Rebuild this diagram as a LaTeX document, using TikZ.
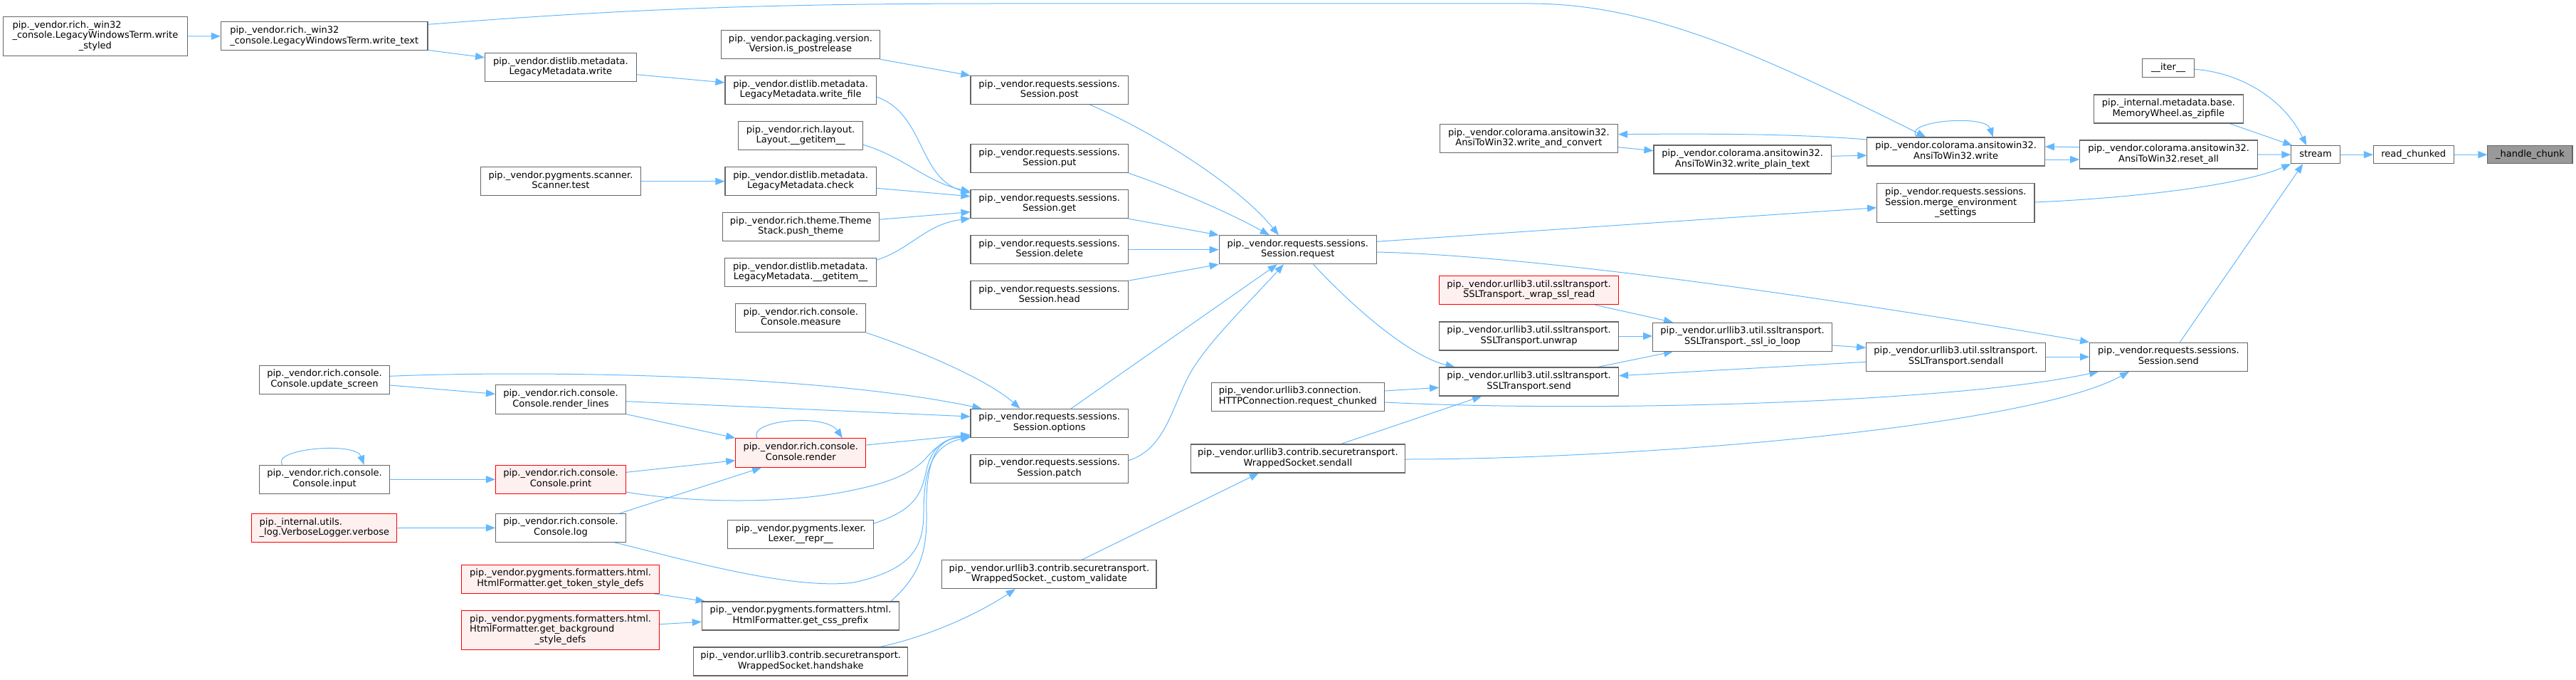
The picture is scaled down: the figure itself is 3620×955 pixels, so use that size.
\documentclass[tikz,border=0pt]{standalone}
\usepackage{fontspec}
\setmainfont{DejaVu Sans}
\usetikzlibrary{arrows.meta}
\definecolor{edgeblue}{HTML}{63B8FF}
\definecolor{nodegray}{HTML}{666666}
\definecolor{redfill}{HTML}{FFF0F0}
\definecolor{hlfill}{HTML}{999999}
\newcommand{\dl}[2]{\begin{tabular}{@{}l@{}}#1\\\multicolumn{1}{@{}c@{}}{#2}\end{tabular}}
\newcommand{\onel}[1]{\begin{tabular}{@{}c@{}}#1\end{tabular}}
\pgfdeclarelayer{edges}
\pgfsetlayers{edges,main}
\tikzset{
  fn/.style={draw=nodegray, fill=white, line width=1.1pt, inner sep=0pt, font=\fontsize{13}{14.7}\selectfont},
  fnred/.style={fn, draw=red, fill=redfill},
  fnhl/.style={fn, fill=hlfill},
  sz/.style 2 args={minimum width=#1pt, minimum height=#2pt},
  call/.style={draw=edgeblue, line width=1pt, -{Triangle[length=13pt,width=10pt]}},
}
\begin{document}
\begin{tikzpicture}[x=1pt,y=-1pt]
\useasboundingbox (0,0) rectangle (3620,955);
% nodes
\node[fn,sz={258.3}{55}] (wstyled) at (133.9,50.8) {\dl{pip.\_vendor.rich.\_win32\\\_console.LegacyWindowsTerm.write}{\_styled}};
\node[fn,sz={290.6}{40}] (wtext) at (455.7,50.9) {\dl{pip.\_vendor.rich.\_win32}{\_console.LegacyWindowsTerm.write\_text}};
\node[fn,sz={182.7}{40}] (update) at (456,533.3) {\dl{pip.\_vendor.rich.console.}{Console.update\_screen}};
\node[fn,sz={182.7}{40}] (input) at (456,673.3) {\dl{pip.\_vendor.rich.console.}{Console.input}};
\node[fnred,sz={204}{40}] (verbose) at (455.9,741.5) {\dl{pip.\_internal.utils.}{\_log.VerboseLogger.verbose}};
\node[fn,sz={222.8}{40}] (postrel) at (1125,62.7) {\dl{pip.\_vendor.packaging.version.}{Version.is\_postrelease}};
\node[fn,sz={212.7}{40}] (lmwrite) at (787.9,94.7) {\dl{pip.\_vendor.distlib.metadata.}{LegacyMetadata.write}};
\node[fn,sz={212.2}{40}] (wfile) at (1125.1,126.7) {\dl{pip.\_vendor.distlib.metadata.}{LegacyMetadata.write\_file}};
\node[fn,sz={174.8}{40}] (layout) at (1125.1,190.7) {\dl{pip.\_vendor.rich.layout.}{Layout.\_\_getitem\_\_}};
\node[fn,sz={224.2}{40}] (scanner) at (788,254.7) {\dl{pip.\_vendor.pygments.scanner.}{Scanner.test}};
\node[fn,sz={212.2}{40}] (check) at (1125.1,254.7) {\dl{pip.\_vendor.distlib.metadata.}{LegacyMetadata.check}};
\node[fn,sz={220}{40}] (theme) at (1125.2,318.7) {\dl{pip.\_vendor.rich.theme.Theme}{Stack.push\_theme}};
\node[fn,sz={213.3}{40}] (lmget) at (1125,382.7) {\dl{pip.\_vendor.distlib.metadata.}{LegacyMetadata.\_\_getitem\_\_}};
\node[fn,sz={183}{40}] (measure) at (1125.3,446.7) {\dl{pip.\_vendor.rich.console.}{Console.measure}};
\node[fn,sz={183}{40.3}] (rlines) at (788,561) {\dl{pip.\_vendor.rich.console.}{Console.render\_lines}};
\node[fnred,sz={183}{40.6}] (render) at (1125.3,636) {\dl{pip.\_vendor.rich.console.}{Console.render}};
\node[fnred,sz={183}{40}] (print) at (788,673.3) {\dl{pip.\_vendor.rich.console.}{Console.print}};
\node[fn,sz={183}{40}] (log) at (788,741.3) {\dl{pip.\_vendor.rich.console.}{Console.log}};
\node[fn,sz={205}{39.6}] (lexer) at (1125.2,750.5) {\dl{pip.\_vendor.pygments.lexer.}{Lexer.\_\_repr\_\_}};
\node[fnred,sz={278}{40}] (token) at (787.6,813.3) {\dl{pip.\_vendor.pygments.formatters.html.}{HtmlFormatter.get\_token\_style\_defs}};
\node[fnred,sz={278}{54.6}] (bg) at (787.6,885) {\dl{pip.\_vendor.pygments.formatters.html.\\HtmlFormatter.get\_background}{\_style\_defs}};
\node[fn,sz={277.4}{40}] (css) at (1125,865) {\dl{pip.\_vendor.pygments.formatters.html.}{HtmlFormatter.get\_css\_prefix}};
\node[fn,sz={301.4}{40}] (handshake) at (1125.2,929) {\dl{pip.\_vendor.urllib3.contrib.securetransport.}{WrappedSocket.handshake}};
\node[fn,sz={221.4}{40}] (post) at (1474.7,126.7) {\dl{pip.\_vendor.requests.sessions.}{Session.post}};
\node[fn,sz={221.4}{40}] (put) at (1474.7,222.7) {\dl{pip.\_vendor.requests.sessions.}{Session.put}};
\node[fn,sz={221.4}{40}] (get) at (1474.7,286.7) {\dl{pip.\_vendor.requests.sessions.}{Session.get}};
\node[fn,sz={221.4}{40}] (delete) at (1474.7,350.7) {\dl{pip.\_vendor.requests.sessions.}{Session.delete}};
\node[fn,sz={221.4}{40}] (head) at (1474.7,414.7) {\dl{pip.\_vendor.requests.sessions.}{Session.head}};
\node[fn,sz={221.4}{40}] (options) at (1474.7,594.3) {\dl{pip.\_vendor.requests.sessions.}{Session.options}};
\node[fn,sz={221.4}{40}] (patch) at (1474.7,658.3) {\dl{pip.\_vendor.requests.sessions.}{Session.patch}};
\node[fn,sz={221.2}{40}] (request) at (1823.8,350.7) {\dl{pip.\_vendor.requests.sessions.}{Session.request}};
\node[fn,sz={301.2}{40}] (cvalidate) at (1474.4,806.7) {\dl{pip.\_vendor.urllib3.contrib.securetransport.}{WrappedSocket.\_custom\_validate}};
\node[fn,sz={242.5}{40}] (rchunked) at (1823.9,557.3) {\dl{pip.\_vendor.urllib3.connection.}{HTTPConnection.request\_chunked}};
\node[fn,sz={301.1}{40}] (wssendall) at (1823.9,644) {\dl{pip.\_vendor.urllib3.contrib.securetransport.}{WrappedSocket.sendall}};
\node[fn,sz={250}{40}] (wac) at (2148.4,194.7) {\dl{pip.\_vendor.colorama.ansitowin32.}{AnsiToWin32.write\_and\_convert}};
\node[fn,sz={249.3}{40}] (wpt) at (2448.6,224) {\dl{pip.\_vendor.colorama.ansitowin32.}{AnsiToWin32.write\_plain\_text}};
\node[fnred,sz={251.9}{40}] (wrapssl) at (2148.6,407.7) {\dl{pip.\_vendor.urllib3.util.ssltransport.}{SSLTransport.\_wrap\_ssl\_read}};
\node[fn,sz={251.9}{40}] (unwrap) at (2148.6,472) {\dl{pip.\_vendor.urllib3.util.ssltransport.}{SSLTransport.unwrap}};
\node[fn,sz={251.7}{40}] (sslio) at (2448.6,473.2) {\dl{pip.\_vendor.urllib3.util.ssltransport.}{SSLTransport.\_ssl\_io\_loop}};
\node[fn,sz={251.9}{40}] (sslsend) at (2148.6,536) {\dl{pip.\_vendor.urllib3.util.ssltransport.}{SSLTransport.send}};
\node[fn,sz={249.5}{40}] (a2wwrite) at (2748.6,213) {\dl{pip.\_vendor.colorama.ansitowin32.}{AnsiToWin32.write}};
\node[fn,sz={221.4}{55}] (merge) at (2748.3,285.2) {\dl{pip.\_vendor.requests.sessions.\\Session.merge\_environment}{\_settings}};
\node[fn,sz={251.9}{40.3}] (sslsendall) at (2748.6,501.2) {\dl{pip.\_vendor.urllib3.util.ssltransport.}{SSLTransport.sendall}};
\node[fn,sz={249.7}{40}] (resetall) at (3047.6,217) {\dl{pip.\_vendor.colorama.ansitowin32.}{AnsiToWin32.reset\_all}};
\node[fn,sz={209.7}{40}] (zipfile) at (3047.4,153) {\dl{pip.\_internal.metadata.base.}{MemoryWheel.as\_zipfile}};
\node[fn,sz={72.7}{25.7}] (iter) at (3047,95.8) {\onel{\_\_iter\_\_}};
\node[fn,sz={221.6}{40.3}] (sessend) at (3047.4,501.2) {\dl{pip.\_vendor.requests.sessions.}{Session.send}};
\node[fn,sz={68.4}{25}] (stream) at (3254,217.2) {\onel{stream}};
\node[fn,sz={112.7}{25}] (rchunk) at (3391.7,217.2) {\onel{read\_chunked}};
\node[fnhl,sz={119.1}{25}] (handle) at (3555.4,217.2) {\onel{\_handle\_chunk}};
% edges
\begin{pgfonlayer}{edges}
\draw[call] (wstyled.east) -- (wtext.west);
\draw[call] ([shift={(0,-1)}]wtext.south east) -- ([shift={(0,-14)}]lmwrite.west);
\draw[call] ([shift={(0,-16.6)}]wtext.east) .. controls (850,15) and (1050,5) .. (1400,5) -- (2150,5) .. controls (2320,5) and (2480,80) .. ([shift={(83,0)}]a2wwrite.north west);
\draw[call] ([shift={(0,10)}]lmwrite.east) -- ([shift={(0,-10.7)}]wfile.west);
\draw[call] ([shift={(0,9.3)}]wfile.east) .. controls (1300,160) and (1290,250) .. ([shift={(0,5)}]get.north west);
\draw[call] ([shift={(0,12.6)}]layout.east) .. controls (1270,220) and (1300,255) .. ([shift={(0,3)}]get.north west);
\draw[call] (scanner.east) -- (check.west);
\draw[call] ([shift={(0,9.6)}]check.east) -- ([shift={(0,-11)}]get.west);
\draw[call] ([shift={(0,-10.4)}]theme.east) -- ([shift={(0,11)}]get.west);
\draw[call] ([shift={(0,-17.7)}]lmget.east) .. controls (1280,350) and (1300,315) .. ([shift={(0,-0.5)}]get.south west);
\draw[call] (postrel.south east) -- (post.north west);
\draw[call] ([shift={(57.3,0)}]post.south) .. controls (1620,185) and (1740,260) .. ([shift={(-27,0)}]request.north);
\draw[call] (put.south east) .. controls (1650,265) and (1730,300) .. ([shift={(-40,0)}]request.north);
\draw[call] (get.south east) -- (request.north west);
\draw[call] (delete.east) -- (request.west);
\draw[call] (head.north east) -- (request.south west);
\draw[call] ([shift={(30.6,0)}]options.north) -- ([shift={(-29,0)}]request.south);
\draw[call] ([shift={(0,-11.6)}]patch.east) .. controls (1640,630) and (1648,565) .. (1675,520) .. controls (1700,478) and (1760,420) .. ([shift={(-20,0)}]request.south);
\draw[call] (measure.south east) .. controls (1300,495) and (1390,535) .. ([shift={(70,0)}]options.north west);
\draw[call] ([shift={(0,-5)}]update.east) .. controls (750,520) and (1150,525) .. ([shift={(16,0)}]options.north west);
\draw[call] ([shift={(0,7.7)}]update.east) -- ([shift={(0,-7.7)}]rlines.west);
\draw[call] ([shift={(0,2.7)}]rlines.east) -- ([shift={(0,-9.3)}]options.west);
\draw[call] (rlines.south east) -- (render.north west);
\draw[call] ([shift={(30.8,0)}]render.north west) .. controls (1050,590) and (1160,580) .. ([shift={(150.6,0)}]render.north west);
\draw[call] ([shift={(0,-11)}]render.east) -- ([shift={(0,-4.3)}]options.south west);
\draw[call] ([shift={(0,-10)}]print.east) -- ([shift={(0,10.7)}]render.west);
\draw[call] ([shift={(0,17.7)}]print.east) .. controls (960,705) and (1100,710) .. (1200,688) .. controls (1260,676) and (1285,660) .. (1300,645) .. controls (1320,620) and (1340,614) .. ([shift={(0,-2.6)}]options.south west);
\draw[call] ([shift={(-8.6,0)}]log.north east) -- ([shift={(36.7,0)}]render.south west);
\draw[call] ([shift={(-16.5,0)}]log.south east) .. controls (940,780) and (1110,830) .. (1200,818) .. controls (1280,800) and (1298,770) .. (1298,720) .. controls (1298,660) and (1310,625) .. ([shift={(0,-1)}]options.south west);
\draw[call] ([shift={(32.8,0)}]input.north west) .. controls (380,630) and (500,620) .. ([shift={(147.4,0)}]input.north west);
\draw[call] (input.east) -- (print.west);
\draw[call] (verbose.east) -- (log.west);
\draw[call] ([shift={(0,-15.5)}]lexer.east) .. controls (1290,715) and (1295,690) .. (1302,660) .. controls (1310,625) and (1330,615) .. ([shift={(0,-0.5)}]options.south west);
\draw[call] ([shift={(-12.3,0)}]css.north east) .. controls (1290,810) and (1303,780) .. (1302,720) .. controls (1300,640) and (1320,615) .. ([shift={(0,-2)}]options.south west);
\draw[call] ([shift={(-8.3,0)}]token.south east) -- ([shift={(5,0)}]css.north west);
\draw[call] ([shift={(0,-8.3)}]bg.east) -- ([shift={(0,8.3)}]css.west);
\draw[call] ([shift={(-40,0)}]handshake.north east) .. controls (1300,895) and (1370,865) .. ([shift={(103.6,0)}]cvalidate.south west);
\draw[call] ([shift={(46,0)}]cvalidate.north) -- ([shift={(96,0)}]wssendall.south west);
\draw[call] ([shift={(211.7,0)}]wssendall.north west) -- ([shift={(60,0)}]sslsend.south west);
\draw[call] ([shift={(0,1)}]wssendall.east) .. controls (2300,645) and (2850,600) .. ([shift={(56,0)}]sessend.south west);
\draw[call] ([shift={(0,-8.3)}]rchunked.east) -- ([shift={(0,8.3)}]sslsend.west);
\draw[call] ([shift={(0,7.7)}]rchunked.east) .. controls (2250,580) and (2750,565) .. ([shift={(13,0)}]sessend.south west);
\draw[call] ([shift={(21.7,0)}]request.south) .. controls (1900,430) and (1980,500) .. ([shift={(22.4,0)}]sslsend.north west);
\draw[call] ([shift={(0,-11.4)}]request.east) -- ([shift={(0,6.5)}]merge.west);
\draw[call] ([shift={(0,3.3)}]request.east) .. controls (2200,360) and (2700,440) .. (sessend.north west);
\draw[call] ([shift={(-29.7,0)}]sslsend.north east) -- ([shift={(28.9,0)}]sslio.south west);
\draw[call] ([shift={(0,7.1)}]sslsendall.west) -- ([shift={(0,-8.3)}]sslsend.east);
\draw[call] ([shift={(0,11.8)}]sslio.east) -- ([shift={(0,-12.9)}]sslsendall.west);
\draw[call] (sslsendall.east) -- (sessend.west);
\draw[call] ([shift={(-33.6,0)}]wrapssl.south east) -- ([shift={(28.9,0)}]sslio.north west);
\draw[call] (unwrap.east) -- ([shift={(0,-1.2)}]sslio.west);
\draw[call] ([shift={(70.8,0)}]a2wwrite.north west) .. controls (2670,170) and (2790,160) .. ([shift={(177.5,0)}]a2wwrite.north west);
\draw[call] ([shift={(0,-17)}]a2wwrite.west) .. controls (2550,190) and (2450,187) .. ([shift={(0,-6)}]wac.east);
\draw[call] ([shift={(0,12)}]wac.east) -- ([shift={(0,-12.3)}]wpt.west);
\draw[call] ([shift={(0,-4.7)}]wpt.east) -- ([shift={(0,5.3)}]a2wwrite.west);
\draw[call] ([shift={(0,-10.3)}]resetall.west) -- ([shift={(0,-7)}]a2wwrite.east);
\draw[call] ([shift={(0,11)}]a2wwrite.east) -- ([shift={(0,7)}]resetall.west);
\draw[call] (resetall.east) -- (stream.west);
\draw[call] ([shift={(-19.7,0)}]zipfile.south east) -- ([shift={(2,0)}]stream.north west);
\draw[call] ([shift={(0,1.5)}]iter.east) .. controls (3150,102) and (3210,140) .. ([shift={(-12.8,0)}]stream.north);
\draw[call] ([shift={(0,-1.2)}]merge.east) .. controls (3000,278) and (3150,260) .. (stream.south west);
\draw[call] ([shift={(16,0)}]sessend.north) -- ([shift={(17,0)}]stream.south west);
\draw[call] (stream.east) -- (rchunk.west);
\draw[call] (rchunk.east) -- (handle.west);
\end{pgfonlayer}
\end{tikzpicture}
\end{document}
